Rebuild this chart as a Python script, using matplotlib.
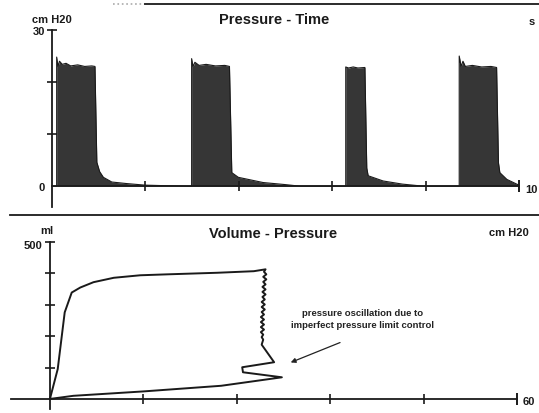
import matplotlib
matplotlib.use("Agg")
import matplotlib.pyplot as plt

# pressure - time trace (s, cm H2O)
time_s = [0.00, 0.10, 0.10, 0.13, 0.16, 0.22, 0.30, 0.40, 0.55, 0.70, 0.85, 0.92, 0.96, 1.02, 1.10, 1.28, 1.60, 1.99, 2.40, 2.90,
          2.99, 2.99, 3.02, 3.06, 3.15, 3.30, 3.50, 3.70, 3.80, 3.85, 3.99, 4.52, 5.00, 5.31, 6.00,
          6.29, 6.29, 6.35, 6.45, 6.55, 6.70, 6.74, 6.77, 7.09, 7.50, 7.95, 8.60,
          8.72, 8.72, 8.76, 8.80, 8.85, 9.00, 9.20, 9.40, 9.52, 9.56, 9.59, 9.74, 9.95, 10.00]
pressure_cmh2o = [0.0, 0.0, 24.8, 23.0, 24.0, 23.4, 23.6, 23.1, 23.3, 23.0, 23.1, 23.0, 4.6, 2.8, 1.7, 0.8, 0.5, 0.2, 0.1, 0.0,
                  0.0, 24.5, 23.0, 23.8, 23.2, 23.4, 23.1, 23.2, 23.0, 2.6, 1.7, 0.7, 0.3, 0.0, 0.0,
                  0.0, 22.9, 22.7, 22.9, 22.7, 22.8, 3.5, 2.0, 1.0, 0.4, 0.0, 0.0,
                  0.0, 25.0, 23.0, 24.0, 23.0, 23.2, 22.9, 23.0, 22.8, 4.5, 2.6, 1.3, 0.4, 0.2]

# volume - pressure loop (cm H2O, ml)
loop_pressure = [0.0, 1.0, 1.9, 2.8, 3.9, 5.6, 8.2, 11.6, 15.1, 21.5, 26.2, 27.7,
                 27.5, 27.8, 27.4, 27.8, 27.4, 27.7, 27.3, 27.7, 27.3, 27.7, 27.3, 27.6, 27.2, 27.6,
                 27.2, 27.6, 27.2, 27.5, 27.1, 27.5, 27.1, 27.5, 27.1, 27.5, 27.1, 27.4, 27.2, 27.4, 27.2,
                 28.8, 24.7, 24.8, 29.8, 22.0, 12.0, 3.0, 0.0]
loop_volume = [0, 95, 276, 339, 355, 372, 386, 394, 397, 402, 407, 413,
               405, 397, 389, 381, 373, 365, 357, 349, 341, 333, 325, 317, 309, 301,
               293, 285, 277, 269, 261, 253, 245, 237, 229, 221, 213, 205, 197, 189, 173,
               117, 101, 85, 69, 42, 24, 10, 0]

W, H = 539, 414
fig = plt.figure(figsize=(W / 100, H / 100), dpi=100)
plt.rcParams['font.family'] = ['Liberation Sans', 'DejaVu Sans']


def fx(x):
    return x / W


def fy(y):
    return 1 - y / H


# top: pressure - time
ax1 = fig.add_axes([fx(52), fy(208), fx(519) - fx(52), fy(31) - fy(208)])
ax1.fill_between(time_s, pressure_cmh2o, 0, color='#363636', lw=0)
ax1.plot(time_s, pressure_cmh2o, color='#1a1a1a', lw=0.8)
ax1.set_xlim(0, 10)
ax1.set_ylim(-4, 30)
ax1.set_xticks([2, 4, 6, 8])
ax1.set_xticks([10], minor=True)
ax1.set_yticks([10, 20, 30])

# bottom: volume - pressure
ax2 = fig.add_axes([fx(11), fy(410), fx(517) - fx(11), fy(243) - fy(410)])
ax2.plot(loop_pressure, loop_volume, color='#1a1a1a', lw=1.4)
ax2.set_xlim(-5, 60)
ax2.set_ylim(-32, 500)
ax2.set_xticks([12, 24, 36, 48])
ax2.set_xticks([60], minor=True)
ax2.set_yticks([100, 200, 300, 400, 500])

for ax in (ax1, ax2):
    ax.patch.set_alpha(0)
    for s in ('top', 'right'):
        ax.spines[s].set_visible(False)
    ax.spines['left'].set_position(('data', 0))
    ax.spines['bottom'].set_position(('data', 0))
    for s in ('left', 'bottom'):
        ax.spines[s].set_linewidth(1.3)
        ax.spines[s].set_color('#1a1a1a')
    ax.tick_params(which='major', direction='inout', length=7, width=1.2, color='#1a1a1a',
                   labelbottom=False, labelleft=False)
    ax.tick_params(which='minor', direction='inout', length=9, width=1.4, color='#1a1a1a',
                   labelbottom=False)

ax2.annotate('', xy=(30.6, 113), xytext=(37.6, 183),
             arrowprops=dict(arrowstyle='-|>', color='#222222', lw=0.9, mutation_scale=7))
ax2.text(40.2, 256, 'pressure oscillation due to\nimperfect pressure limit control',
         ha='center', va='center', fontsize=6.8, fontweight='bold', color='#222222',
         linespacing=1.35)

tk = dict(fontweight='bold', color='#1a1a1a')
fig.text(fx(274), fy(20), 'Pressure - Time', ha='center', va='center', fontsize=10.5, **tk)
fig.text(fx(52), fy(20), 'cm H20', ha='center', va='center', fontsize=8, **tk)
fig.text(fx(45), fy(32), '30', ha='right', va='center', fontsize=8, **tk)
fig.text(fx(45), fy(188), '0', ha='right', va='center', fontsize=8, **tk)
fig.text(fx(532), fy(22), 's', ha='center', va='center', fontsize=8, **tk)
fig.text(fx(525), fy(190), '10', ha='left', va='center', fontsize=8, **tk)

fig.text(fx(273), fy(234), 'Volume - Pressure', ha='center', va='center', fontsize=10.5, **tk)
fig.text(fx(47), fy(231), 'ml', ha='center', va='center', fontsize=8, **tk)
fig.text(fx(42), fy(246), '500', ha='right', va='center', fontsize=8, **tk)
fig.text(fx(509), fy(233), 'cm H20', ha='center', va='center', fontsize=8, **tk)
fig.text(fx(523), fy(402), '60', ha='left', va='center', fontsize=8, **tk)

# screen separator lines
fig.add_artist(plt.Line2D([fx(113), fx(145)], [fy(5), fy(5)], color='#aaaaaa', lw=1.2, ls=':'))
fig.add_artist(plt.Line2D([fx(145), fx(539)], [fy(5), fy(5)], color='#1a1a1a', lw=1.3))
fig.add_artist(plt.Line2D([fx(10), fx(539)], [fy(216), fy(216)], color='#1a1a1a', lw=1.3))

fig.savefig('out.png', dpi=100)
